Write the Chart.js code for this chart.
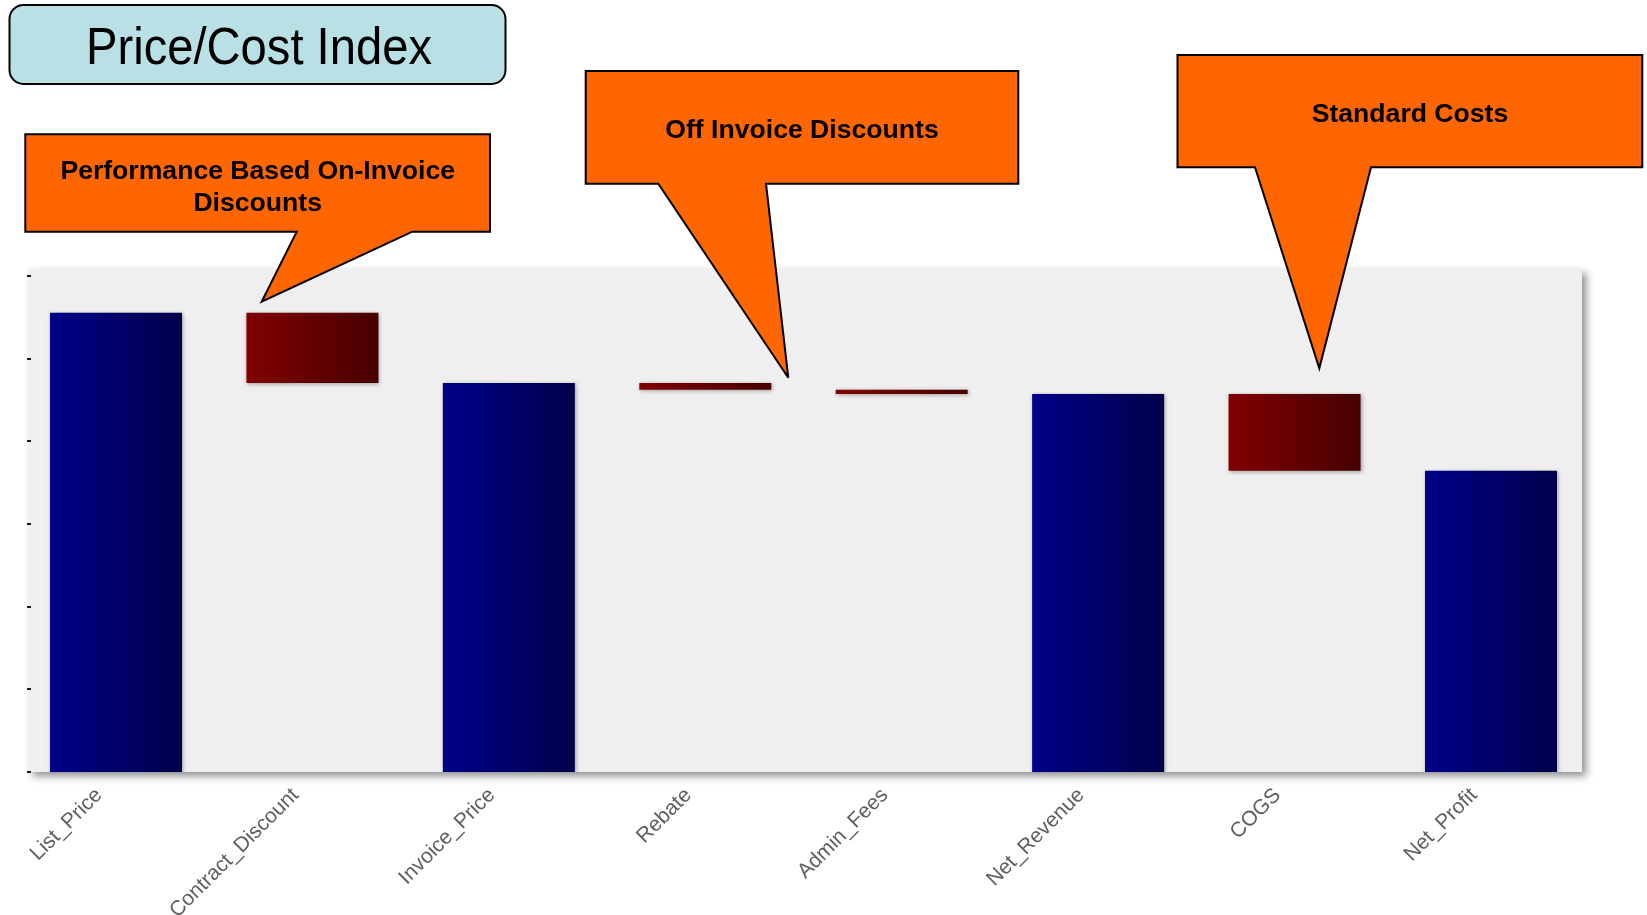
<!DOCTYPE html>
<html>
<head>
<meta charset="utf-8">
<title>Price/Cost Index</title>
<script src="https://cdn.jsdelivr.net/npm/chart.js@4.4.1/dist/chart.umd.min.js"></script>
<style>
  html, body { margin: 0; padding: 0; background: #ffffff; }
  #wrap { position: relative; width: 1647px; height: 915px; overflow: hidden; }
  #chart { position: absolute; left: 0; top: 0; }
  #overlay { position: absolute; left: 0; top: 0; pointer-events: none; }
  #overlay text { font-family: "Liberation Sans", Arial, Helvetica, sans-serif; fill: #000; }
  .callout { fill: #ff6600; stroke: #000; stroke-width: 2; stroke-linejoin: miter; }
  .callout-text { font-size: 26.6px; font-weight: bold; }
</style>
</head>
<body>
<div id="wrap">
  <canvas id="chart" width="1647" height="915"></canvas>
  <svg id="overlay" width="1647" height="915" viewBox="0 0 1647 915">
    <!-- title box -->
    <rect x="9.5" y="5" width="496" height="79" rx="14" ry="14" fill="#b9e0e4" stroke="#000" stroke-width="2"/>
    <text x="259" y="64" text-anchor="middle" font-size="52" textLength="346" lengthAdjust="spacingAndGlyphs">Price/Cost Index</text>

    <!-- on-invoice discounts callout -->
    <path class="callout" d="M25.3,134.3 L490,134.3 L490,231.7 L412.3,231.7 L261.7,301.7 L296.7,231.7 L25.3,231.7 Z"/>
    <text class="callout-text" x="257.7" y="179.3" text-anchor="middle">Performance Based On-Invoice</text>
    <text class="callout-text" x="257.7" y="210.7" text-anchor="middle">Discounts</text>

    <!-- off-invoice discounts callout -->
    <path class="callout" d="M585.7,71 L1018.3,71 L1018.3,183.7 L766,183.7 L788.3,377.7 L658.3,183.7 L585.7,183.7 Z"/>
    <text class="callout-text" x="802" y="137.7" text-anchor="middle">Off Invoice Discounts</text>

    <!-- standard costs callout -->
    <path class="callout" d="M1177.5,55 L1642.3,55 L1642.3,167.3 L1371,167.3 L1319.3,368.3 L1255,167.3 L1177.5,167.3 Z"/>
    <text class="callout-text" x="1410" y="121.7" text-anchor="middle">Standard Costs</text>
  </svg>
</div>

<script>
// Waterfall steps, indexed to List_Price = 100
const categories = ['List_Price', 'Contract_Discount', 'Invoice_Price', 'Rebate',
                    'Admin_Fees', 'Net_Revenue', 'COGS', 'Net_Profit'];
const amounts    = [100, -15.3, 84.7, -1.5, -0.9, 82.3, -16.7, 65.6];
const stepKinds  = ['total', 'change', 'total', 'change', 'change', 'total', 'change', 'total'];

// Unlabelled y-axis ticks
const yTickStep = 18;
const yAxisMax  = 109.5;

// Floating ranges: totals rise from zero, changes hang from the running level
const ranges = [];
let level = 0;
amounts.forEach((v, i) => {
  if (stepKinds[i] === 'total') {
    ranges.push([0, v]);
    level = v;
  } else {
    ranges.push([level + v, level]);
    level += v;
  }
});

const BAR_PCT = 0.672;
const FONT = '"Liberation Sans", Arial, Helvetica, sans-serif';

function barFill(ctx) {
  const chart = ctx.chart;
  const xs = chart.scales.x;
  const isChange = stepKinds[ctx.dataIndex] === 'change';
  const from = isChange ? '#820000' : '#00008a';
  const to   = isChange ? '#460000' : '#00004a';
  if (!xs || ctx.type !== 'data' || !isFinite(xs.width)) return from;
  const cx = xs.getPixelForValue(ctx.dataIndex);
  const half = xs.width / categories.length * BAR_PCT / 2;
  const g = chart.ctx.createLinearGradient(cx - half, 0, cx + half, 0);
  g.addColorStop(0, from);
  g.addColorStop(1, to);
  return g;
}

// Grey panel with drop shadow behind the bars, plus short y tick marks
const plotPanel = {
  id: 'plotPanel',
  beforeDatasetsDraw(chart) {
    const { ctx, chartArea, scales } = chart;
    const left = chartArea.left + 11.2;
    const right = chartArea.right - 7.2;
    ctx.save();
    ctx.shadowColor = 'rgba(0,0,0,0.45)';
    ctx.shadowBlur = 8;
    ctx.shadowOffsetX = 4;
    ctx.shadowOffsetY = 4;
    ctx.fillStyle = '#efefef';
    ctx.fillRect(left, chartArea.top, right - left, chartArea.bottom - chartArea.top);
    ctx.restore();

    ctx.save();
    ctx.fillStyle = '#1a1a1a';
    scales.y.ticks.forEach(t => {
      const py = Math.round(scales.y.getPixelForValue(t.value));
      ctx.fillRect(left - 2, py - 1, 4, 2);
    });
    ctx.restore();
  },
  beforeDatasetDraw(chart) {
    const ctx = chart.ctx;
    ctx.save();
    ctx.shadowColor = 'rgba(0,0,0,0.35)';
    ctx.shadowBlur = 4;
    ctx.shadowOffsetX = 1;
    ctx.shadowOffsetY = 1;
  },
  afterDatasetDraw(chart) {
    chart.ctx.restore();
  }
};

new Chart(document.getElementById('chart'), {
  type: 'bar',
  data: {
    labels: categories,
    datasets: [{
      data: ranges,
      backgroundColor: barFill,
      borderWidth: 0,
      borderSkipped: false,
      categoryPercentage: 1,
      barPercentage: BAR_PCT
    }]
  },
  options: {
    responsive: false,
    animation: false,
    devicePixelRatio: 1,
    layout: { padding: { top: 269, left: 17.8, right: 57.8, bottom: 0 } },
    plugins: { legend: { display: false }, tooltip: { enabled: false } },
    scales: {
      x: {
        offset: true,
        grid: { display: false, drawTicks: false },
        border: { display: false },
        ticks: {
          autoSkip: false,
          minRotation: 45,
          maxRotation: 45,
          padding: 11,
          labelOffset: -17,
          color: '#606060',
          font: { family: FONT, size: 21 }
        },
        afterFit(scale) { scale.height = 143; }
      },
      y: {
        display: false,
        min: 0,
        max: yAxisMax,
        ticks: { stepSize: yTickStep, includeBounds: false }
      }
    }
  },
  plugins: [plotPanel]
});
</script>
</body>
</html>
